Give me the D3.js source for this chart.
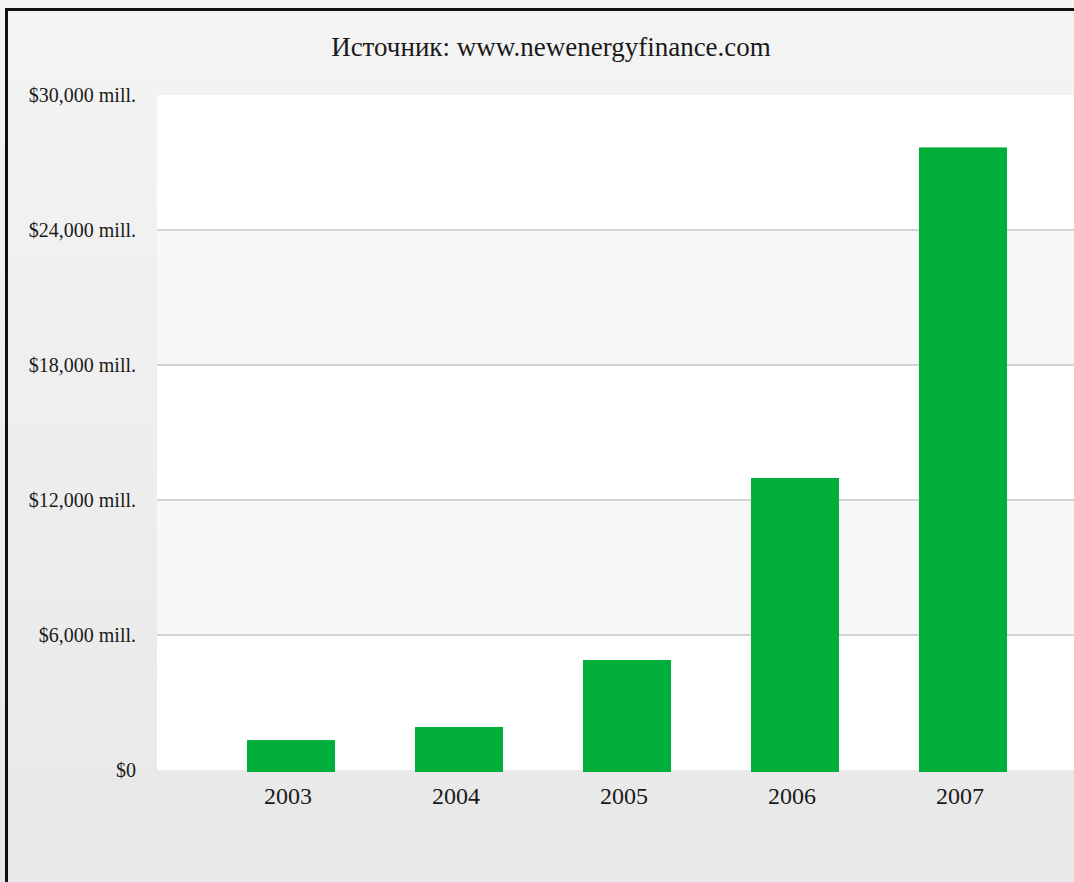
<!DOCTYPE html>
<html>
<head>
<meta charset="utf-8">
<script src="https://cdnjs.cloudflare.com/ajax/libs/d3/7.8.5/d3.min.js"></script>
<style>
    body { margin: 0; background: #ffffff; }
    #bar-viz svg { display: block; }
    .serif text, text.serif { font-family: "Liberation Serif", "Times New Roman", serif; fill: #1a1a1a; }
</style>
</head>
<body>
<div id="bar-viz"></div>
<script>
const years = ['2003', '2004', '2005', '2006', '2007'];
const investment = [1330, 1910, 4890, 12980, 27670];
const yTicks = [0, 6000, 12000, 18000, 24000, 30000];
const yTickLabels = ['$0', '$6,000 mill.', '$12,000 mill.', '$18,000 mill.', '$24,000 mill.', '$30,000 mill.'];
const sourceText = 'Источник: www.newenergyfinance.com';

const width = 1074;
const height = 882;
const plot = { left: 157, right: 1074, top: 95, bottom: 770 };

const data = years.map((y, i) => ({ year: y, value: investment[i] }));

const svg = d3
    .select('#bar-viz')
    .append('svg')
    .attr('width', width)
    .attr('height', height);

// background gradient
const grad = svg.append('defs')
    .append('linearGradient')
    .attr('id', 'bg')
    .attr('x1', 0).attr('y1', 0).attr('x2', 0).attr('y2', 1);
grad.append('stop').attr('offset', '0%').attr('stop-color', '#f4f4f4');
grad.append('stop').attr('offset', '100%').attr('stop-color', '#e8e8e8');

svg.append('rect')
    .attr('width', width)
    .attr('height', height)
    .attr('fill', 'url(#bg)');

const yScale = d3
    .scaleLinear()
    .domain([0, 30000])
    .range([plot.bottom, plot.top]);

const xScale = d3
    .scaleBand()
    .domain(years)
    .range([207, 1047])
    .paddingInner(0.476)
    .paddingOuter(0.238);

// alternating bands
const bands = d3.pairs(yTicks);
svg.selectAll('.band')
    .data(bands)
    .enter()
    .append('rect')
        .attr('class', 'band')
        .attr('x', plot.left)
        .attr('width', plot.right - plot.left)
        .attr('y', (d) => yScale(d[1]))
        .attr('height', (d) => yScale(d[0]) - yScale(d[1]))
        .attr('fill', (d, i) => i % 2 === 0 ? '#ffffff' : '#f7f7f7');

// bottom strip under zero line
svg.append('rect')
    .attr('x', 0)
    .attr('y', yScale(0))
    .attr('width', width)
    .attr('height', height - yScale(0))
    .attr('fill', '#e9e9e9');

// gridlines
svg.append('g')
    .selectAll('line')
    .data(yTicks.filter((t) => t > 0 && t < 30000))
    .enter()
    .append('line')
        .attr('x1', plot.left)
        .attr('x2', plot.right)
        .attr('y1', (d) => yScale(d))
        .attr('y2', (d) => yScale(d))
        .attr('stroke', '#d3d3d3')
        .attr('stroke-width', 2);

// Y axis labels
const yAxis = svg.append('g')
    .attr('class', 'serif')
    .attr('transform', `translate(136, 0)`)
    .call(
        d3.axisLeft(yScale)
            .tickValues(yTicks)
            .tickFormat((d, i) => yTickLabels[i])
            .tickSize(0)
            .tickPadding(0)
    );
yAxis.select('.domain').remove();
yAxis.attr('font-family', null);
yAxis.selectAll('text')
    .style('font-size', '20px');

// Bars
svg.selectAll('.bar')
    .data(data)
    .enter()
    .append('rect')
        .attr('class', 'bar')
        .attr('x', (d) => xScale(d.year))
        .attr('width', xScale.bandwidth())
        .attr('y', (d) => yScale(d.value))
        .attr('height', (d) => yScale(0) + 2 - yScale(d.value))
        .attr('fill', '#00ae39');

// X axis labels
const xAxis = svg.append('g')
    .attr('class', 'serif')
    .attr('transform', `translate(-3, ${yScale(0)})`)
    .call(d3.axisBottom(xScale).tickSize(0).tickPadding(17));
xAxis.select('.domain').remove();
xAxis.attr('font-family', null);
xAxis.selectAll('text')
    .style('font-size', '24px');

// title
svg.append('text')
    .attr('class', 'serif')
    .attr('x', 551)
    .attr('y', 56)
    .attr('text-anchor', 'middle')
    .style('font-size', '27px')
    .text(sourceText);

// frame on left and top
svg.append('rect').attr('x', 5).attr('y', 8).attr('width', 3).attr('height', height - 8).attr('fill', '#111');
svg.append('rect').attr('x', 5).attr('y', 8).attr('width', width - 5).attr('height', 3).attr('fill', '#111');
</script>
</body>
</html>
